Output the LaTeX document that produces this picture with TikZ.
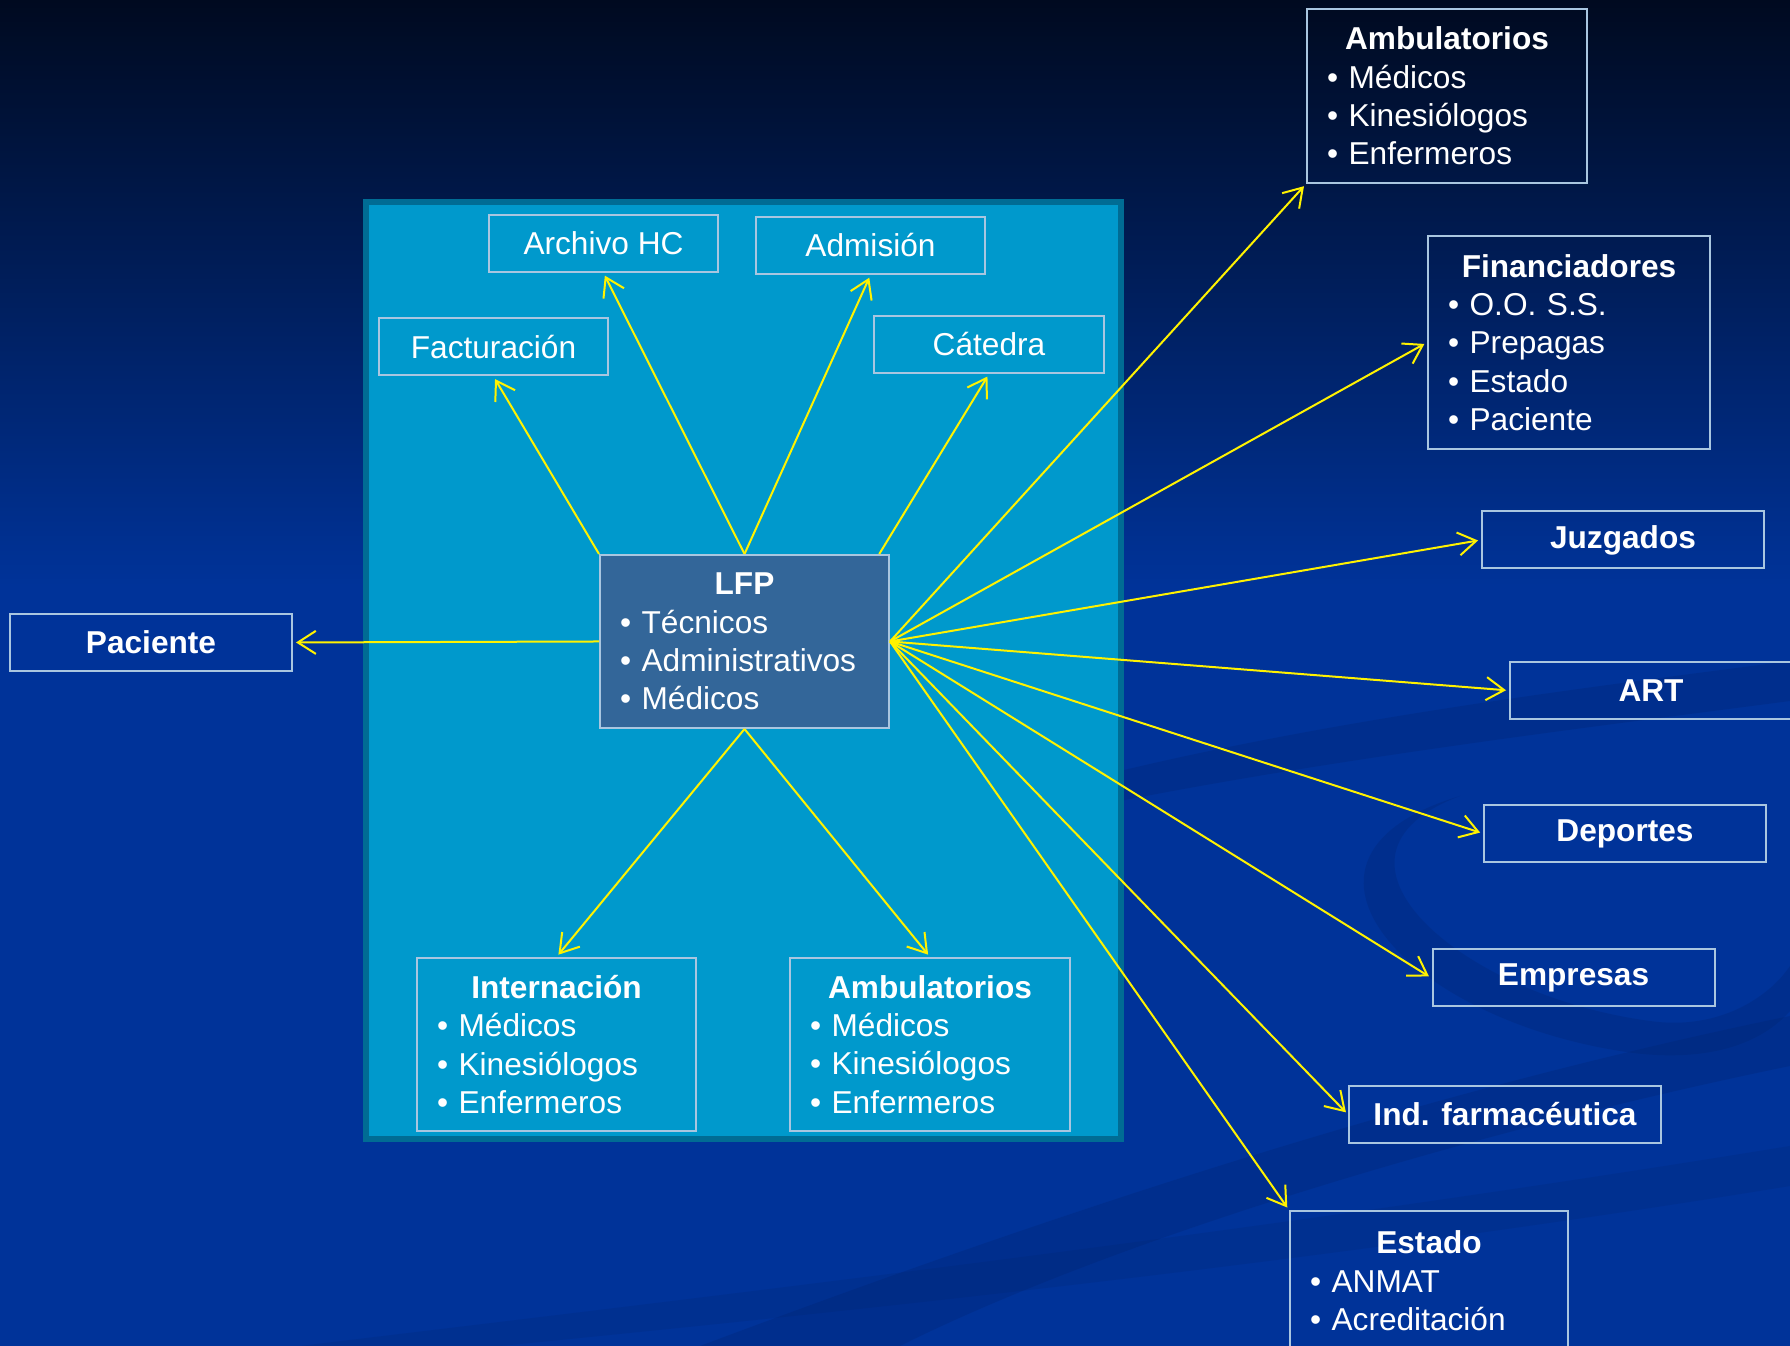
\documentclass[tikz,border=0pt]{standalone}
\usepackage{fontspec}
\setmainfont{Liberation Sans}
\usetikzlibrary{arrows.meta}

\definecolor{bgtop}{HTML}{000A20}
\definecolor{bgbot}{HTML}{003399}
\definecolor{swirl}{HTML}{00246E}
\definecolor{panel}{HTML}{0099CC}
\definecolor{paneledge}{HTML}{006C94}
\definecolor{boxline}{HTML}{A9C6E0}
\definecolor{lfpfill}{HTML}{336699}

\newcommand{\head}[1]{{\centering\bfseries #1\par}}
\newcommand{\bul}{\textbullet\ }

\begin{document}
\begin{tikzpicture}[>={Straight Barb[length=1.8mm, width=2.3mm]},
        box/.style = {draw = boxline, line width = 0.2mm, text = white, inner sep = 0pt,
                      minimum height = 0.57cm, font = \fontsize{9}{10.9}\selectfont},
        namebox/.style = {box, font = \fontsize{9}{10.9}\selectfont\bfseries, minimum width = 2.82cm},
        listbox/.style 2 args = {box, inner xsep = 0.2cm, align = left, text width = #1, minimum height = #2},
        link/.style = {->, yellow, line width = 0.2mm, shorten > = 0.3mm}]
        % background
        \fill[bgbot] (0, 0) rectangle (17.90, 13.46);
        \shade[top color = bgtop, bottom color = bgbot] (0, 7.6) rectangle (17.90, 13.46);
        \fill[swirl, opacity = 0.28] (11.2, 5.75) .. controls (13.5, 6.3) and (16, 6.6) .. (17.9, 6.85)
            -- (17.9, 6.45) .. controls (16, 6.2) and (13.5, 5.9) .. (11.2, 5.45) -- cycle;
        \fill[swirl, opacity = 0.28] (14.6, 5.5) .. controls (13.0, 4.9) and (14.6, 3.5) .. (16.5, 3.25)
            .. controls (17.2, 3.15) and (17.7, 3.5) .. (17.9, 3.8) -- (17.9, 3.35)
            .. controls (17.5, 2.9) and (16.8, 2.85) .. (16.2, 2.95)
            .. controls (14.0, 3.3) and (12.6, 4.9) .. (14.6, 5.5) -- cycle;
        \fill[swirl, opacity = 0.28] (7.0, 0) .. controls (11, 1.5) and (14.5, 2.6) .. (17.9, 3.3)
            -- (17.9, 2.8) .. controls (14.5, 2.1) and (11, 1.0) .. (9.0, 0) -- cycle;
        \fill[swirl, opacity = 0.2] (3.0, 0) .. controls (8, 0.6) and (13, 1.2) .. (17.9, 2.0)
            -- (17.9, 1.6) .. controls (13, 0.8) and (8, 0.3) .. (5.0, 0) -- cycle;
        \useasboundingbox (0, 0) rectangle (17.90, 13.46);

        % LFP panel
        \draw[paneledge, fill = panel, line width = 0.6mm] (3.66, 11.44) rectangle (11.21, 2.07);

        \node[listbox = {2.49cm}{1.73cm}, fill = lfpfill] (1) at (7.445, 7.045)
            {\head{LFP}\bul Técnicos\\ \bul Administrativos\\ \bul Médicos};
        \node[box, minimum width = 2.29cm] (2) at (4.935, 9.99) {Facturación};
        \node[box, minimum width = 2.29cm] (3) at (6.035, 11.025) {Archivo HC};
        \node[box, minimum width = 2.29cm] (4) at (8.705, 11.005) {Admisión};
        \node[box, minimum width = 2.30cm] (5) at (9.89, 10.015) {Cátedra};
        \node[listbox = {2.39cm}{1.73cm}] (6) at (5.565, 3.015)
            {\head{Internación}\bul Médicos\\ \bul Kinesiólogos\\ \bul Enfermeros};
        \node[listbox = {2.40cm}{1.73cm}] (7) at (9.30, 3.015)
            {\head{Ambulatorios}\bul Médicos\\ \bul Kinesiólogos\\ \bul Enfermeros};

        % outside
        \node[namebox] (8) at (1.51, 7.035) {Paciente};
        \node[listbox = {2.40cm}{1.74cm}] (9) at (14.47, 12.50)
            {\head{Ambulatorios}\bul Médicos\\ \bul Kinesiólogos\\ \bul Enfermeros};
        \node[listbox = {2.42cm}{2.13cm}] (10) at (15.69, 10.035)
            {\head{Financiadores}\bul O.O. S.S.\\ \bul Prepagas\\ \bul Estado\\ \bul Paciente};
        \node[namebox] (11) at (16.23, 8.06) {Juzgados};
        \node[namebox] (12) at (16.51, 6.555) {ART};
        \node[namebox] (13) at (16.25, 5.125) {Deportes};
        \node[namebox] (14) at (15.735, 3.68) {Empresas};
        \node[namebox, minimum width = 3.12cm] (15) at (15.05, 2.315) {Ind. farmacéutica};
        \node[listbox = {2.38cm}{1.40cm}] (16) at (14.29, 0.65)
            {\head{Estado}\bul ANMAT\\ \bul Acreditación};

        \draw[link] (1.west) -- (8.east);
        \draw[link] (1.north west) -- (2.south);
        \draw[link] (1.north) -- (3.south);
        \draw[link] (1.north) -- (4.south);
        \draw[link] (1.33) -- (5.south);
        \draw[link] (1.south) -- (6.north);
        \draw[link] (1.south) -- (7.north);
        \draw[link] (1.east) -- (9.south west);
        \foreach \n in {10, ..., 15}
            \draw[link] (1.east) -- (\n.west);
        \draw[link] (1.east) -- (16.north west);
    \end{tikzpicture}
\end{document}
